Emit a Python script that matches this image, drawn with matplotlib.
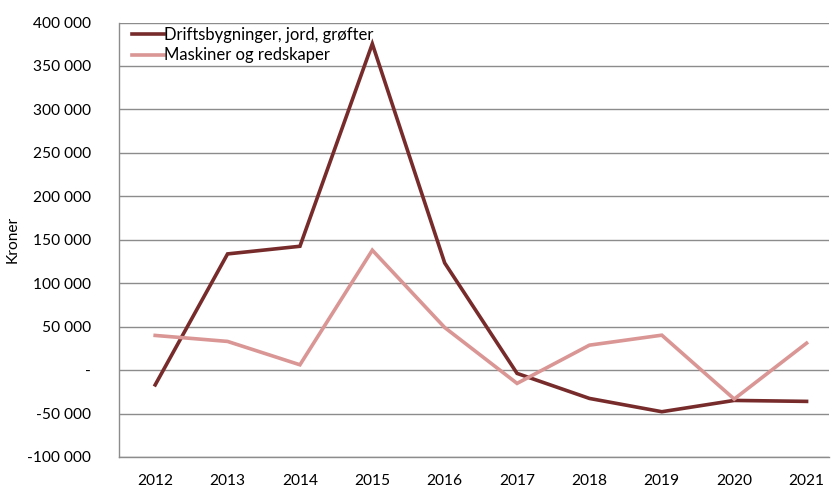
import matplotlib
matplotlib.use("Agg")
import matplotlib.pyplot as plt
from matplotlib.ticker import FuncFormatter

years = ["2012", "2013", "2014", "2015", "2016", "2017", "2018", "2019", "2020", "2021"]
drifts = [-17000, 133700, 142500, 375500, 123300, -3800, -32600, -47900, -34900, -36000]
maskiner = [39900, 33000, 6100, 138000, 49000, -15300, 28700, 40200, -33300, 31000]
labels = ["Driftsbygninger, jord, grøfter", "Maskiner og redskaper"]

plt.rcParams['font.family'] = ['Lato', 'DejaVu Sans']

fig = plt.figure(figsize=(8.34, 4.87), dpi=100)
ax = fig.add_axes([119/834, 1 - 457/487, (829-119)/834, (457-22.5)/487])

x = list(range(len(years)))
ax.plot(x, drifts, color="#772B2B", lw=2.6, label=labels[0], solid_joinstyle='miter')
ax.plot(x, maskiner, color="#D99694", lw=2.6, label=labels[1], solid_joinstyle='miter')

ax.set_ylim(-100000, 400000)
ax.set_yticks(range(-100000, 400001, 50000))
ax.set_xlim(-0.5, 9.31)
ax.set_xticks(x)
ax.set_xticklabels(years)

def fmt(v, pos):
    if v == 0:
        return "-"
    s = f"{abs(int(v)):,}".replace(",", " ")
    return ("-" if v < 0 else "") + s
ax.yaxis.set_major_formatter(FuncFormatter(fmt))

ax.grid(axis='y', color="#8C8C8C", lw=1)
ax.set_axisbelow(True)
for s in ["top", "right"]:
    ax.spines[s].set_visible(False)
for s in ["left", "bottom"]:
    ax.spines[s].set_color("#8C8C8C")
    ax.spines[s].set_linewidth(1)
ax.tick_params(axis='both', length=0, labelsize=11.2, colors="#000000")
ax.tick_params(axis='y', pad=20)
ax.tick_params(axis='x', pad=12)
ax.set_ylabel("Kroner", fontsize=11.2)
ax.yaxis.set_label_coords((20 - 119) / 710, 0.5)

leg = ax.legend(loc="upper left", bbox_to_anchor=(0.0, 1.021), frameon=False,
                fontsize=12, handlelength=1.9, handletextpad=0.0,
                labelspacing=0.28, borderaxespad=0.4)

fig.savefig("out.png", dpi=100)
